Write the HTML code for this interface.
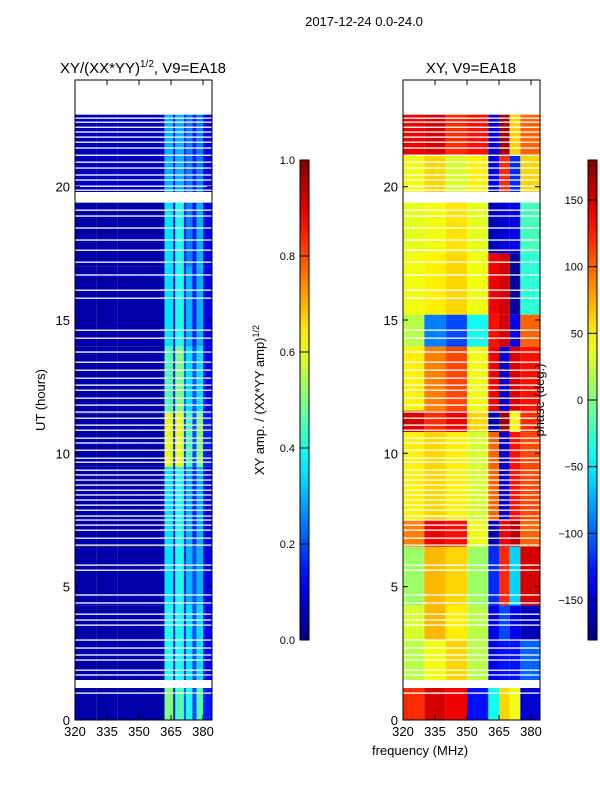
<!DOCTYPE html>
<html><head><meta charset="utf-8"><style>
body{margin:0;background:#fff;}
svg{display:block;font-family:"Liberation Sans","DejaVu Sans",sans-serif;}
</style></head><body>
<svg id="fig" width="600" height="800" viewBox="0 0 600 800" xmlns="http://www.w3.org/2000/svg">
<text x="364" y="26" font-size="13" text-anchor="middle">2017-12-24 0.0-24.0</text>
<text x="143" y="73" font-size="15" text-anchor="middle">XY/(XX*YY)<tspan font-size="10" dy="-6">1/2</tspan><tspan dy="6">, V9=EA18</tspan></text>
<text x="471" y="73" font-size="15" text-anchor="middle">XY, V9=EA18</text>
<g id="left"></g>
<g id="right"></g>
<g id="axes"></g>
<text transform="translate(45,400) rotate(-90)" font-size="13" text-anchor="middle">UT (hours)</text>
<text x="420" y="755" font-size="13" text-anchor="middle">frequency (MHz)</text>
<text transform="translate(264,400) rotate(-90)" font-size="13" text-anchor="middle">XY amp. / (XX*YY amp)<tspan font-size="9" dy="-5">1/2</tspan></text>
<text transform="translate(544,400) rotate(-90)" font-size="13" text-anchor="middle">phase (deg.)</text>
</svg>
<script>
// ---- data ----
const freqEdges = [320,330,340,350,362,366,367,371,372,375,377,380,384.2];
const ampSegStarts = [0,1.5,4.3,6.5,9.5,11.5,14,17,19.8];
const ampSegEnds   = [1.2,4.3,6.5,9.5,11.5,14,17,19.4,22.7];
const ampValues = [
 [0.04,0.04,0.04,0.04,0.5,0.15,0.45,0.2,0.4,0.2,0.45,0.15],
 [0.04,0.04,0.04,0.04,0.4,0.15,0.4,0.15,0.35,0.2,0.35,0.12],
 [0.04,0.04,0.04,0.04,0.35,0.12,0.4,0.15,0.3,0.2,0.3,0.1],
 [0.04,0.04,0.04,0.04,0.35,0.12,0.4,0.15,0.3,0.15,0.3,0.1],
 [0.04,0.04,0.04,0.04,0.6,0.15,0.6,0.2,0.45,0.2,0.5,0.15],
 [0.04,0.04,0.04,0.04,0.45,0.15,0.5,0.2,0.35,0.2,0.35,0.12],
 [0.04,0.04,0.04,0.04,0.35,0.12,0.4,0.15,0.3,0.15,0.3,0.1],
 [0.04,0.04,0.04,0.04,0.35,0.12,0.4,0.15,0.25,0.15,0.3,0.1],
 [0.06,0.06,0.06,0.06,0.3,0.12,0.3,0.15,0.25,0.15,0.25,0.1]
];
const phaseFreqEdges = [320,330,340,350,360,365,370,375,384.2];
const phaseSegStarts = [0,1.5,3.0,4.3,6.5,7.5,10.8,11.6,14.0,15.2,17.5,19.8,21.2];
const phaseSegEnds   = [1.2,3.0,4.3,6.5,7.5,10.8,11.6,14.0,15.2,17.5,19.4,21.2,22.7];
const phaseValues = [
 [120,150,140,-130,-40,60,40,-150],
 [20,40,60,20,-140,-130,-130,-100],
 [30,70,50,20,-140,-110,-140,-160],
 [10,70,60,10,-120,120,-60,150],
 [90,140,130,40,-160,140,160,100],
 [50,60,50,30,100,-150,130,110],
 [150,120,140,60,-160,170,40,120],
 [50,90,110,40,140,-150,150,130],
 [20,-90,-110,-40,130,150,-140,100],
 [40,50,60,40,140,150,-170,-30],
 [35,40,55,35,-160,-150,-140,-20],
 [40,60,30,50,-140,120,-120,60],
 [140,150,120,130,-150,170,60,100]
];
const gapHours = [22.57,22.42,22.23,22.05,21.86,21.67,21.45,21.18,20.92,20.70,20.44,20.25,20.02,19.87,
 19.12,18.90,18.45,18.0,17.62,17.17,16.69,16.12,15.82,14.62,14.32,13.8,13.42,13.12,12.82,12.56,12.37,
 12.07,11.81,11.55,11.32,11.06,10.87,10.57,10.39,10.12,9.82,9.67,9.37,9.19,9.0,8.81,8.62,8.44,8.25,
 8.06,7.87,7.65,7.5,7.31,7.12,6.82,6.56,5.81,5.62,4.69,4.39,3.97,3.75,3.56,3.0,2.7,2.44,2.25,1.87,1.69,1.01];
const yTicks = [0,5,10,15,20];
const xTicks = [320,335,350,365,380];
const ampTicks = [0.0,0.2,0.4,0.6,0.8,1.0];
const phaseTicks = [-150,-100,-50,0,50,100,150];

// ---- helpers ----
const NS="http://www.w3.org/2000/svg";
function jet(v){v=Math.max(0,Math.min(1,v));
 const c=x=>Math.round(255*Math.max(0,Math.min(1,x)));
 return `rgb(${c(Math.min(4*v-1.5,-4*v+4.5))},${c(Math.min(4*v-0.5,-4*v+3.5))},${c(Math.min(4*v+0.5,-4*v+2.5))})`;}
function mk(tag,attrs,parent){const e=document.createElementNS(NS,tag);for(const k in attrs)e.setAttribute(k,attrs[k]);parent.appendChild(e);return e;}
const Y0=720,Y1=80; const yScale=h=>Y0-(h/24)*(Y0-Y1);
const panels={left:75,right:403}; const PW=137;
const xScale=(f,x0)=>x0+(f-320)/(384.2-320)*PW;

// amplitude heatmap
const L=document.getElementById('left');
ampSegStarts.forEach((s,i)=>{ampValues[i].forEach((v,j)=>{
 const x0=xScale(freqEdges[j],75),x1=xScale(freqEdges[j+1],75);
 const r=mk('rect',{x:x0,y:yScale(ampSegEnds[i]),width:x1-x0,height:yScale(s)-yScale(ampSegEnds[i]),fill:jet(v)},L);
 
 
});});
// phase heatmap
const R=document.getElementById('right');
phaseSegStarts.forEach((s,i)=>{phaseValues[i].forEach((v,j)=>{
 const x0=xScale(phaseFreqEdges[j],403),x1=xScale(phaseFreqEdges[j+1],403);
 const r=mk('rect',{x:x0,y:yScale(phaseSegEnds[i]),width:x1-x0,height:yScale(s)-yScale(phaseSegEnds[i]),fill:jet((v+180)/360)},R);
 
 
});});
// gaps
[[L,75],[R,403]].forEach(([g,x0])=>{gapHours.forEach(h=>{
 const r=mk('rect',{x:x0,y:yScale(h)-0.6,width:PW,height:1.3,fill:'#fff'},g);
 
 
});});

// axes
const A=document.getElementById('axes');
['left','right'].forEach(p=>{const x0=panels[p];
 const f=mk('rect',{x:x0,y:Y1,width:PW,height:Y0-Y1,fill:'none',stroke:'#000','stroke-width':1},A);
 
 
 yTicks.forEach(t=>{const y=yScale(t);
  mk('line',{x1:x0,x2:x0+5,y1:y,y2:y,stroke:'#000'},A);
  mk('line',{x1:x0+PW,x2:x0+PW-5,y1:y,y2:y,stroke:'#000'},A);
  const tx=mk('text',{x:x0-5,y:y+5,'font-size':13,'text-anchor':'end'},A);tx.textContent=t;
  
  
 });
 xTicks.forEach(t=>{const x=xScale(t,x0);
  mk('line',{x1:x,x2:x,y1:Y0,y2:Y0-5,stroke:'#000'},A);
  mk('line',{x1:x,x2:x,y1:Y1,y2:Y1+5,stroke:'#000'},A);
  const tx=mk('text',{x:x,y:Y0+16,'font-size':13,'text-anchor':'middle'},A);tx.textContent=t;
  
  
 });
});
// colorbars
const defs=mk('defs',{},A);
const gr=mk('linearGradient',{id:'jetg',x1:0,y1:1,x2:0,y2:0},defs);
for(let i=0;i<=20;i++)mk('stop',{offset:i/20,'stop-color':jet(i/20)},gr);
function colorbar(x,ticks,lo,hi,name){
 const cb=mk('rect',{x:x,y:160,width:9,height:480,fill:'url(#jetg)',stroke:'#000','stroke-width':1},A);
 
 
 ticks.forEach(t=>{const y=640-(t-lo)/(hi-lo)*480;
  mk('line',{x1:x,x2:x+9,y1:y,y2:y,stroke:'#000'},A);
  const tx=mk('text',{x:x-5,y:y+4,'font-size':11,'text-anchor':'end'},A);
  tx.textContent=(name==='amp-colorbar')?t.toFixed(1):(t<0?'\u2212'+Math.abs(t):t);
  
  
 });
}
colorbar(300,ampTicks,0,1,'amp-colorbar');
colorbar(588,phaseTicks,-180,180,'phase-colorbar');
</script>
</body></html>
